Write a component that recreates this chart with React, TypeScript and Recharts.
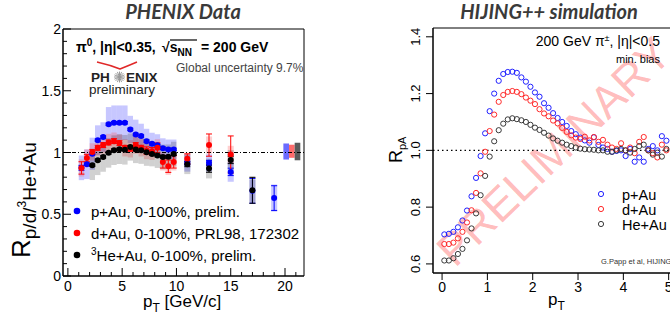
import React from 'react';
import { ScatterChart, Scatter, XAxis, YAxis, ReferenceArea, ReferenceLine, ErrorBar } from 'recharts';

const SANS = '"Liberation Sans", Arial, Helvetica, sans-serif';
const TITLE_FONT = 'Lato, "Open Sans", sans-serif';

// ---------- Left panel: PHENIX data ----------
const pAuPt = [1.25, 1.75, 2.25, 2.75, 3.25, 3.75, 4.25, 4.75, 5.25, 5.75, 6.25, 6.75, 7.25, 7.75, 8.25, 8.75, 9.25, 9.75, 11, 13, 15, 17, 19];
const pAuR = [0.876, 0.905, 0.99, 1.1, 1.125, 1.228, 1.241, 1.241, 1.241, 1.187, 1.146, 1.133, 1.092, 1.07, 1.058, 1.035, 1.025, 1.025, 0.915, 0.916, 0.843, 0.69, 0.631];
const pAuStat = [0.02, 0.01, 0.01, 0.01, 0.01, 0.01, 0.01, 0.01, 0.01, 0.01, 0.01, 0.01, 0.01, 0.01, 0.01, 0.01, 0.01, 0.01, 0.015, 0.02, 0.03, 0.1, 0.1];
const pAuSys = [0.1, 0.12, 0.13, 0.12, 0.12, 0.14, 0.14, 0.14, 0.14, 0.11, 0.12, 0.1, 0.1, 0.09, 0.09, 0.08, 0.08, 0.08, 0.07, 0.07, 0.08, 0.09, 0.11];

const dAuPt = [1.25, 1.75, 2.25, 2.75, 3.25, 3.75, 4.25, 4.75, 5.25, 5.75, 6.25, 6.75, 7.25, 7.75, 8.25, 8.75, 9.25, 9.75, 11, 13, 15];
const dAuR = [0.875, 0.955, 1.005, 1.038, 1.06, 1.081, 1.092, 1.076, 1.038, 1.03, 1.06, 1.038, 1.016, 1.01, 1.038, 0.924, 0.889, 0.924, 0.949, 1.06, 0.984];
const dAuStat = [0.05, 0.03, 0.02, 0.02, 0.02, 0.02, 0.02, 0.02, 0.02, 0.02, 0.02, 0.02, 0.03, 0.03, 0.04, 0.05, 0.05, 0.05, 0.04, 0.09, 0.15];
const dAuSys = [0.07, 0.07, 0.07, 0.07, 0.07, 0.07, 0.07, 0.07, 0.07, 0.07, 0.07, 0.07, 0.07, 0.07, 0.07, 0.07, 0.07, 0.07, 0.05, 0.07, 0.07];

const heAuPt = [2.25, 2.75, 3.25, 3.75, 4.25, 4.75, 5.25, 5.75, 6.25, 6.75, 7.25, 7.75, 8.25, 8.75, 9.25, 9.75, 11, 13, 15, 17];
const heAuR = [0.897, 0.937, 0.964, 0.997, 1.019, 1.027, 1.022, 1.044, 1.024, 1.018, 1.002, 0.988, 0.975, 0.964, 0.965, 0.987, 0.905, 0.87, 0.94, 0.694];
const heAuStat = [0.01, 0.01, 0.01, 0.01, 0.01, 0.01, 0.01, 0.01, 0.01, 0.01, 0.01, 0.01, 0.01, 0.01, 0.01, 0.01, 0.02, 0.03, 0.03, 0.105];
const heAuSys = [0.12, 0.12, 0.12, 0.12, 0.12, 0.12, 0.12, 0.11, 0.11, 0.11, 0.11, 0.1, 0.1, 0.1, 0.1, 0.1, 0.08, 0.08, 0.08, 0.11];

// global uncertainty boxes (p+Au, d+Au, 3He+Au)
const globalX = [20.11, 20.63, 21.15];
const globalLo = [0.943, 0.957, 0.937];
const globalHi = [1.073, 1.063, 1.079];
const globalColors = ['#6b6bff', '#ff6b6b', '#5a5a5a'];

const leftXTicks = [0, 1, 2, 3, 4, 5, 6, 7, 8, 9, 10, 11, 12, 13, 14, 15, 16, 17, 18, 19, 20, 21];
const leftYTicks = [0, 0.1, 0.2, 0.3, 0.4, 0.5, 0.6, 0.7, 0.8, 0.9, 1, 1.1, 1.2, 1.3, 1.4, 1.5, 1.6, 1.7, 1.8, 1.9, 2];

// ---------- Right panel: HIJING++ simulation ----------
const hijingPt = [0.05, 0.15, 0.25, 0.35, 0.45, 0.55, 0.65, 0.75, 0.85, 0.95, 1.05, 1.15, 1.25, 1.35, 1.45, 1.55, 1.65, 1.75, 1.85, 1.95, 2.05, 2.15, 2.25, 2.35, 2.45, 2.55, 2.65, 2.75, 2.85, 2.95, 3.05, 3.15, 3.25, 3.35, 3.45, 3.55, 3.65, 3.75, 3.85, 3.95, 4.05, 4.15, 4.25, 4.35, 4.45, 4.55, 4.65, 4.75, 4.85, 4.95];
const hijingPAu = [0.704, 0.706, 0.713, 0.729, 0.753, 0.788, 0.838, 0.903, 0.98, 1.06, 1.138, 1.2, 1.245, 1.269, 1.276, 1.277, 1.273, 1.257, 1.242, 1.224, 1.204, 1.189, 1.166, 1.15, 1.131, 1.114, 1.1, 1.086, 1.068, 1.057, 1.045, 1.035, 1.027, 1.046, 1.019, 1.01, 1.005, 0.995, 0.998, 1.0, 0.98, 1.005, 0.96, 0.975, 0.96, 1.005, 1.015, 1.0, 1.05, 1.034];
const hijingDAu = [0.67, 0.67, 0.675, 0.69, 0.713, 0.746, 0.789, 0.85, 0.919, 0.995, 1.068, 1.126, 1.171, 1.195, 1.206, 1.209, 1.206, 1.198, 1.186, 1.175, 1.163, 1.145, 1.13, 1.12, 1.105, 1.095, 1.079, 1.065, 1.053, 1.045, 1.04, 1.048, 1.035, 1.047, 1.03, 1.037, 1.02, 1.01, 1.005, 1.025, 1.0, 1.01, 0.99, 1.03, 1.047, 1.0, 0.99, 0.975, 1.02, 1.0];
const hijingHeAu = [0.612, 0.612, 0.62, 0.635, 0.653, 0.683, 0.725, 0.778, 0.842, 0.91, 0.978, 1.032, 1.071, 1.094, 1.109, 1.113, 1.11, 1.106, 1.1, 1.09, 1.08, 1.072, 1.062, 1.052, 1.042, 1.034, 1.027, 1.02, 1.015, 1.01, 1.006, 1.004, 1.003, 1.002, 1.0, 1.0, 0.995, 0.995, 1.0, 1.005, 1.0, 0.992, 1.005, 1.015, 1.02, 1.0, 0.985, 0.992, 0.978, 1.005];
const rightXTicks = [0, 1, 2, 3, 4, 5];
const rightYTicks = [0.6, 0.8, 1.0, 1.2, 1.4];

const mk = (xs: number[], ys: number[], es?: number[]) =>
  xs.map((x, i) => ({ x, y: ys[i], e: es ? es[i] : 0 }));

const pAuData = mk(pAuPt, pAuR, pAuStat);
const dAuData = mk(dAuPt, dAuR, dAuStat);
const heAuData = mk(heAuPt, heAuR, heAuStat);
const hPAu = mk(hijingPt, hijingPAu);
const hDAu = mk(hijingPt, hijingDAu);
const hHeAu = mk(hijingPt, hijingHeAu);

const halfW = (x: number) => (x > 10 ? 0.28 : 0.25);

const filledDot = (color: string) => (p: any) => (
  <circle cx={p.cx} cy={p.cy} r={3} fill={color} stroke="none" />
);
const openDot = (color: string) => (p: any) => (
  <circle cx={p.cx} cy={p.cy} r={2.6} fill="none" stroke={color} strokeWidth={1} />
);

const fmtLeft = (v: number) => String(v);

const LeftYTick = (p: any) => {
  const v = p.payload.value;
  const major = Math.abs(v * 2 - Math.round(v * 2)) < 1e-6;
  return (
    <g>
      <line x1={p.x} y1={p.y} x2={p.x + (major ? 8 : 4)} y2={p.y} stroke="#000" strokeWidth={1} />
      {major && (
        <text x={p.x - 2} y={p.y + 5} textAnchor="end" fontSize={14} fontFamily={SANS} fill="#000">
          {fmtLeft(v)}
        </text>
      )}
    </g>
  );
};

const LeftXTick = (p: any) => {
  const v = p.payload.value;
  const major = v % 5 === 0;
  return (
    <g>
      <line x1={p.x} y1={p.y} x2={p.x} y2={p.y - (major ? 8 : 4)} stroke="#000" strokeWidth={1} />
      {major && (
        <text x={p.x} y={p.y + 15} textAnchor="middle" fontSize={14} fontFamily={SANS} fill="#000">
          {String(v)}
        </text>
      )}
    </g>
  );
};

const RightYTick = (p: any) => {
  const v = p.payload.value;
  return (
    <g>
      <line x1={p.x - 7} y1={p.y} x2={p.x} y2={p.y} stroke="#000" strokeWidth={1} />
      <text
        transform={`translate(${p.x - 13},${p.y}) rotate(-90)`}
        textAnchor="middle"
        fontSize={13}
        fontFamily={SANS}
        fill="#000"
      >
        {v.toFixed(1)}
      </text>
    </g>
  );
};

const RightXTick = (p: any) => {
  const v = p.payload.value;
  return (
    <g>
      <line x1={p.x} y1={p.y} x2={p.x} y2={p.y + 7} stroke="#000" strokeWidth={1} />
      <text x={p.x} y={p.y + 19} textAnchor="middle" fontSize={14} fontFamily={SANS} fill="#000">
        {String(v)}
      </text>
    </g>
  );
};

const boxes = (xs: number[], ys: number[], sys: number[], color: string, op: number, key: string) =>
  xs.map((x, i) => (
    <ReferenceArea
      key={key + i}
      x1={x - halfW(x)}
      x2={x + halfW(x)}
      y1={ys[i] - sys[i]}
      y2={ys[i] + sys[i]}
      fill={color}
      fillOpacity={op}
      stroke="none"
      ifOverflow="visible"
    />
  ));

function LeftChart() {
  return (
    <ScatterChart width={335} height={317} margin={{ top: 29, right: 31, bottom: 11, left: 23 }}>
      <XAxis
        type="number"
        dataKey="x"
        domain={[-0.45, 21.75]}
        ticks={leftXTicks}
        interval={0}
        allowDataOverflow
        height={30}
        tickSize={0}
        tickMargin={0}
        tickLine={false}
        axisLine={{ stroke: '#000' }}
        tick={(p: any) => <LeftXTick {...p} />}
      />
      <YAxis
        type="number"
        dataKey="y"
        domain={[0, 2]}
        ticks={leftYTicks}
        interval={0}
        allowDataOverflow
        width={40}
        tickSize={0}
        tickMargin={0}
        tickLine={false}
        axisLine={{ stroke: '#000' }}
        tick={(p: any) => <LeftYTick {...p} />}
      />
      {boxes(pAuPt, pAuR, pAuSys, '#5c5cff', 0.34, 'pb')}
      {boxes(dAuPt, dAuR, dAuSys, '#ff4040', 0.25, 'db')}
      {boxes(heAuPt, heAuR, heAuSys, '#000000', 0.18, 'hb')}
      {globalX.map((x, i) => (
        <ReferenceArea
          key={'g' + i}
          x1={x - 0.26}
          x2={x + 0.26}
          y1={globalLo[i]}
          y2={globalHi[i]}
          fill={globalColors[i]}
          fillOpacity={1}
          stroke="none"
          ifOverflow="visible"
        />
      ))}
      <ReferenceLine y={1} stroke="#000" strokeWidth={1} strokeDasharray="4 2 1 2" />
      <ReferenceArea x1={-0.45} x2={21.75} y1={0} y2={2} fill="none" stroke="#000" strokeWidth={1} ifOverflow="visible" />
      <Scatter data={pAuData} fill="#0000ff" isAnimationActive={false} shape={filledDot('#0000ff')}>
        <ErrorBar dataKey="e" direction="y" width={3} stroke="#0000ff" strokeWidth={1} />
      </Scatter>
      <Scatter data={dAuData} fill="#ff0000" isAnimationActive={false} shape={filledDot('#ff0000')}>
        <ErrorBar dataKey="e" direction="y" width={3} stroke="#ff0000" strokeWidth={1} />
      </Scatter>
      <Scatter data={heAuData} fill="#000000" isAnimationActive={false} shape={filledDot('#000000')}>
        <ErrorBar dataKey="e" direction="y" width={3} stroke="#000000" strokeWidth={1} />
      </Scatter>
    </ScatterChart>
  );
}

function RightChart() {
  return (
    <ScatterChart width={360} height={317} margin={{ top: 28, right: 15, bottom: 14, left: 58 }}>
      <XAxis
        type="number"
        dataKey="x"
        domain={[-0.2, 5.25]}
        ticks={rightXTicks}
        interval={0}
        allowDataOverflow
        height={30}
        tickSize={0}
        tickMargin={0}
        tickLine={false}
        axisLine={{ stroke: '#000' }}
        tick={(p: any) => <RightXTick {...p} />}
      />
      <YAxis
        type="number"
        dataKey="y"
        domain={[0.568, 1.431]}
        ticks={rightYTicks}
        interval={0}
        allowDataOverflow
        width={40}
        tickSize={0}
        tickMargin={0}
        tickLine={false}
        axisLine={{ stroke: '#000' }}
        tick={(p: any) => <RightYTick {...p} />}
      />
      <ReferenceArea x1={-0.2} x2={5.25} y1={0.568} y2={1.431} fill="none" stroke="#000" strokeWidth={1} ifOverflow="visible" />
      <ReferenceLine y={1} stroke="#000" strokeWidth={1.2} strokeDasharray="1.5 3" />
      <Scatter data={hPAu} isAnimationActive={false} shape={openDot('#2020ff')} />
      <Scatter data={hDAu} isAnimationActive={false} shape={openDot('#ff2a2a')} />
      <Scatter data={hHeAu} isAnimationActive={false} shape={openDot('#3a3a3a')} />
    </ScatterChart>
  );
}

const leftLegend = [
  { color: '#0000ff', y: 211 },
  { color: '#ff0000', y: 233 },
  { color: '#000000', y: 255 },
];
const rightLegend = [
  { color: '#2020ff', label: 'p+Au', y: 194 },
  { color: '#ff2a2a', label: 'd+Au', y: 209 },
  { color: '#3a3a3a', label: 'He+Au', y: 224 },
];

function Watermark() {
  return (
    <svg width={670} height={317} style={{ position: 'absolute', left: 0, top: 0 }}>
      <text
        transform="translate(554,152) rotate(-44)"
        x={0}
        y={15}
        textAnchor="middle"
        fontSize={45}
        fontFamily={SANS}
        fill="#ff3030"
        fillOpacity={0.32}
      >
        PRELIMINARY
      </text>
    </svg>
  );
}

function Overlay() {
  const starLines = [0, 22.5, 45, 67.5, 90, 112.5, 135, 157.5];
  return (
    <svg width={670} height={317} style={{ position: 'absolute', left: 0, top: 0, pointerEvents: 'none' }}>
      {/* Left titles and annotations */}
      <text x={183} y={19} textAnchor="middle" fontSize={20} fontStyle="italic" fontWeight="bold" fontFamily={TITLE_FONT} fill="#3a3a3a">
        PHENIX Data
      </text>
      <text x={76} y={52} fontSize={14} fontWeight="bold" fontFamily={SANS} fill="#000">
        π<tspan dy={-6} fontSize={10}>0</tspan>
        <tspan dy={6}>, |η|&lt;0.35, </tspan>
        <tspan x={162}>√</tspan>
        <tspan>s</tspan>
        <tspan dy={4} fontSize={10}>NN</tspan>
        <tspan dy={-4} x={201}>= 200 GeV</tspan>
      </text>
      <line x1={170} y1={40} x2={197} y2={40} stroke="#000" strokeWidth={1.2} />
      <text x={176} y={72} fontSize={12} fontFamily={SANS} fill="#444">
        Global uncertainty 9.7%
      </text>
      <path d="M97,62 Q110,65 120,69 Q130,65 137,62" fill="none" stroke="#e02828" strokeWidth={1.5} />
      <text x={91} y={82} fontSize={13.5} fontWeight="bold" fontFamily={SANS} fill="#222">PH</text>
      {starLines.map((a) => (
        <line
          key={a}
          x1={119.5 - 5.5 * Math.cos((a * Math.PI) / 180)}
          y1={77 - 5.5 * Math.sin((a * Math.PI) / 180)}
          x2={119.5 + 5.5 * Math.cos((a * Math.PI) / 180)}
          y2={77 + 5.5 * Math.sin((a * Math.PI) / 180)}
          stroke="#9a9a9a"
          strokeWidth={1}
        />
      ))}
      <text x={126} y={82} fontSize={13.5} fontWeight="bold" fontFamily={SANS} fill="#222">ENIX</text>
      <text x={89} y={94} fontSize={13.5} fontFamily={SANS} fill="#222">preliminary</text>

      {/* Left axis titles */}
      <text transform="translate(30,258) rotate(-90)" fontFamily={SANS} fill="#000">
        <tspan fontSize={26}>R</tspan>
        <tspan fontSize={19} dy={6}>p/d/</tspan>
        <tspan fontSize={12} dy={-10}>3</tspan>
        <tspan fontSize={19} dy={10}>He+Au</tspan>
      </text>
      <text x={143} y={307} fontSize={17} fontFamily={SANS} fill="#000">
        p<tspan fontSize={12} dy={5}>T</tspan>
        <tspan dy={-5}> [GeV/c]</tspan>
      </text>

      {/* Left legend */}
      {leftLegend.map((l) => (
        <circle key={l.y} cx={77} cy={l.y} r={3.3} fill={l.color} />
      ))}
      <text x={91} y={216.5} fontSize={15} fontFamily={SANS} fill="#000">p+Au, 0-100%, prelim.</text>
      <text x={91} y={238.5} fontSize={15} fontFamily={SANS} fill="#000">d+Au, 0-100%, PRL98, 172302</text>
      <text x={91} y={260.5} fontSize={15} fontFamily={SANS} fill="#000">
        <tspan fontSize={10} dy={-6}>3</tspan>
        <tspan dy={6}>He+Au, 0-100%, prelim.</tspan>
      </text>

      {/* Right titles and annotations */}
      <text x={549} y={19} textAnchor="middle" fontSize={20} fontStyle="italic" fontWeight="bold" fontFamily={TITLE_FONT} fill="#3a3a3a">
        HIJING++ simulation
      </text>
      <text x={660} y={46} textAnchor="end" fontSize={14} fontFamily={SANS} fill="#000">
        200 GeV π<tspan dy={-5} fontSize={9}>±</tspan>
        <tspan dy={5}>, |η|&lt;0.5</tspan>
      </text>
      <text x={660} y={63} textAnchor="end" fontSize={11} fontFamily={SANS} fill="#000">min. bias</text>
      <text transform="translate(402,163) rotate(-90)" fontFamily={SANS} fill="#000">
        <tspan fontSize={18}>R</tspan>
        <tspan fontSize={11} dy={4}>pA</tspan>
      </text>
      <text x={548} y={305} fontSize={17} fontFamily={SANS} fill="#000">
        p<tspan fontSize={12} dy={5}>T</tspan>
      </text>
      {rightLegend.map((l) => (
        <g key={l.label}>
          <circle cx={601} cy={l.y} r={2.6} fill="none" stroke={l.color} strokeWidth={1} />
          <text x={622} y={l.y + 5.5} fontSize={14.5} fontFamily={SANS} fill="#000">{l.label}</text>
        </g>
      ))}
      <text x={601} y={264} fontSize={7.5} fontFamily={SANS} fill="#333">G.Papp et al, HIJING++</text>
    </svg>
  );
}

export default function App() {
  return (
    <div style={{ position: 'absolute', left: 0, top: 0, width: 670, height: 317, overflow: 'hidden', background: '#fff' }}>
      <Watermark />
      <div style={{ position: 'absolute', left: 0, top: 0 }}>
        <LeftChart />
      </div>
      <div style={{ position: 'absolute', left: 335, top: 0 }}>
        <RightChart />
      </div>
      <Overlay />
    </div>
  );
}
